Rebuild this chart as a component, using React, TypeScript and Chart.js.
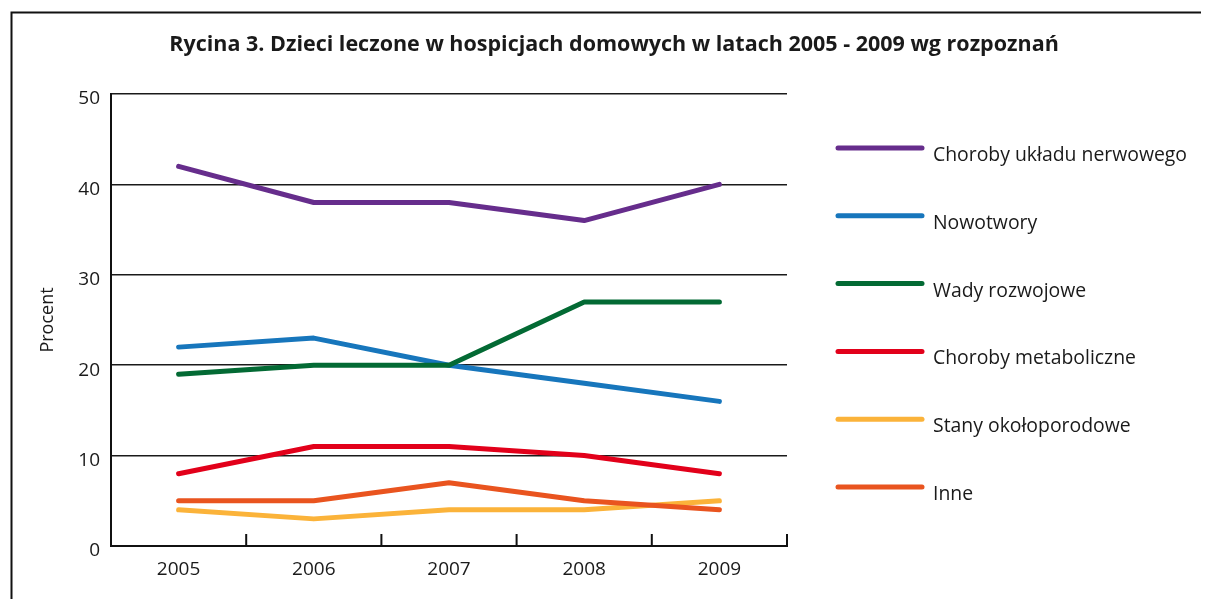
import React, { useEffect, useRef } from "react";
import { Chart, registerables } from "chart.js";

Chart.register(...registerables);

const TITLE = "Rycina 3. Dzieci leczone w hospicjach domowych w latach 2005 - 2009 wg rozpoznań";
const Y_TITLE = "Procent";
const YEARS = ["2005", "2006", "2007", "2008", "2009"];

const SERIES_LABELS = [
  "Choroby układu nerwowego",
  "Nowotwory",
  "Wady rozwojowe",
  "Choroby metaboliczne",
  "Stany okołoporodowe",
  "Inne",
];
const SERIES_COLORS = ["#662d8c", "#1776bc", "#036a34", "#e2001a", "#fbb33a", "#e9541f"];

const NERWOWY = [42, 38, 38, 36, 40];
const NOWOTWORY = [22, 23, 20, 18, 16];
const WADY = [19, 20, 20, 27, 27];
const METABOLICZNE = [8, 11, 11, 10, 8];
const OKOLOPORODOWE = [4, 3, 4, 4, 5];
const INNE = [5, 5, 7, 5, 4];
const SERIES_VALUES = [NERWOWY, NOWOTWORY, WADY, METABOLICZNE, OKOLOPORODOWE, INNE];

const Y_MIN = 0;
const Y_MAX = 50;
const Y_STEP = 10;

const FONT = "'Open Sans', 'DejaVu Sans', sans-serif";
const TEXT_COLOR = "#1a1a1a";

const decorPlugin = {
  id: "decor",
  beforeDraw(chart: any) {
    const ctx = chart.ctx;
    ctx.save();
    ctx.fillStyle = "#ffffff";
    ctx.fillRect(0, 0, chart.width, chart.height);
    // frame (left + top)
    ctx.strokeStyle = "#111111";
    ctx.lineWidth = 2;
    ctx.lineCap = "butt";
    ctx.beginPath();
    ctx.moveTo(chart.width, 4.5);
    ctx.lineTo(3.5, 4.5);
    ctx.lineTo(3.5, chart.height);
    ctx.stroke();
    ctx.restore();
  },
  afterDraw(chart: any) {
    const ctx = chart.ctx;
    const area = chart.chartArea;
    const xScale = chart.scales.x;
    ctx.save();
    // title
    ctx.fillStyle = TEXT_COLOR;
    ctx.font = `bold 21.5px ${FONT}`;
    ctx.textAlign = "center";
    ctx.textBaseline = "middle";
    ctx.fillText(TITLE, 606, 37);

    // inward x-axis tick marks at bin boundaries
    ctx.strokeStyle = "#111111";
    ctx.lineWidth = 2;
    ctx.beginPath();
    for (let i = 0; i <= YEARS.length; i++) {
      const x = xScale.getPixelForValue(i - 0.5);
      ctx.moveTo(x, area.bottom);
      ctx.lineTo(x, area.bottom - 12);
    }
    ctx.stroke();

    // legend
    const ds = chart.data.datasets;
    const startY = area.top + 54;
    const gap = 67.8;
    ctx.font = `19.4px ${FONT}`;
    ctx.textAlign = "left";
    ctx.textBaseline = "middle";
    ds.forEach((d: any, i: number) => {
      const y = startY + i * gap;
      ctx.strokeStyle = d.borderColor;
      ctx.lineWidth = 5;
      ctx.lineCap = "round";
      ctx.beginPath();
      ctx.moveTo(area.right + 51, y);
      ctx.lineTo(area.right + 135, y);
      ctx.stroke();
      ctx.fillStyle = TEXT_COLOR;
      ctx.fillText(d.label, area.right + 146, y + 7.5);
    });
    ctx.restore();
  },
};

export default function App() {
  const ref = useRef<HTMLCanvasElement | null>(null);

  useEffect(() => {
    if (!ref.current) return;
    const chart = new Chart(ref.current, {
      type: "line",
      data: {
        labels: YEARS,
        datasets: SERIES_LABELS.map((label, i) => ({
          label,
          data: SERIES_VALUES[i],
          borderColor: SERIES_COLORS[i],
          backgroundColor: SERIES_COLORS[i],
          borderWidth: 5,
          borderCapStyle: "round" as const,
          borderJoinStyle: "round" as const,
          pointRadius: 0,
          pointHoverRadius: 0,
          tension: 0,
          fill: false,
          order: SERIES_LABELS.length - i,
        })),
      },
      options: {
        responsive: false,
        animation: false,
        events: [],
        layout: { padding: { left: 20, right: 422, top: 86, bottom: 13 } },
        plugins: {
          legend: { display: false },
          title: { display: false },
          tooltip: { enabled: false },
        },
        scales: {
          x: {
            type: "category",
            offset: true,
            grid: { display: false, drawTicks: false, offset: true },
            border: { display: true, color: "#111111", width: 2 },
            ticks: {
              color: TEXT_COLOR,
              font: { family: FONT, size: 19 },
              padding: 12,
              maxRotation: 0,
              autoSkip: false,
            },
            afterFit: (s: any) => {
              s.height = 40;
            },
          },
          y: {
            min: Y_MIN,
            max: Y_MAX,
            grid: { color: "#1a1a1a", lineWidth: 1.5, drawTicks: false },
            border: { display: true, color: "#111111", width: 2 },
            ticks: {
              stepSize: Y_STEP,
              color: TEXT_COLOR,
              font: { family: FONT, size: 19 },
              padding: 11,
              labelOffset: 5,
            },
            title: {
              display: true,
              text: Y_TITLE,
              color: TEXT_COLOR,
              font: { family: FONT, size: 18 },
              padding: { top: 9, bottom: 0 },
            },
            afterFit: (s: any) => {
              s.width = 83;
            },
          },
        },
      },
      plugins: [decorPlugin],
    });
    return () => chart.destroy();
  }, []);

  return (
    <div style={{ width: 1201, height: 591 }}>
      <canvas ref={ref} width={1201} height={591} style={{ display: "block" }} />
    </div>
  );
}
